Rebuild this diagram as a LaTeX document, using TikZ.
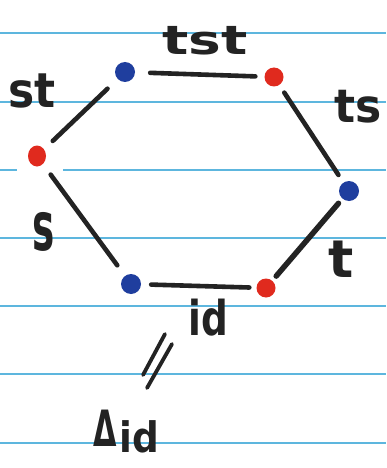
\documentclass[tikz,border=0pt]{standalone}
\usepackage{fontspec}
\usetikzlibrary{shapes.geometric}
\setmainfont{DejaVu Sans}
\definecolor{ruleblue}{HTML}{5DB6DE}
\definecolor{ink}{HTML}{232323}
\definecolor{dotblue}{HTML}{1F3E9E}
\definecolor{dotred}{HTML}{E02A1E}
\begin{document}
\begin{tikzpicture}[x=1pt,y=-1pt,
  rule/.style={draw=ruleblue, line width=2.6pt},
  edge/.style={draw=ink, line width=4.6pt, line cap=round},
  bdot/.style={circle, fill=dotblue, minimum size=20pt, inner sep=0pt},
  rdot/.style={circle, fill=dotred, minimum size=19pt, inner sep=0pt},
  lbl/.style={text=ink, inner sep=0pt, transform shape, xscale=1.1,
              font=\fontsize{40}{40}\selectfont\bfseries}]
\useasboundingbox (0,0) rectangle (386,468);
\fill[white] (0,0) rectangle (386,468);
% ruled paper
\foreach \yy in {33,102,238,306,374,443} \draw[rule] (0,\yy) -- (386,\yy);
\draw[rule] (0,170) -- (17,170);
\draw[rule] (63,170) -- (386,170);
% vertices
\node[bdot] (tl) at (125,72) {};
\node[rdot] (tr) at (274,77) {};
\node[rdot, ellipse, minimum width=18pt, minimum height=21pt] (l) at (37,156) {};
\node[bdot] (r) at (349,191) {};
\node[bdot] (bl) at (131,284) {};
\node[rdot] (br) at (266,288) {};
% edges
\draw[edge, shorten <=15pt, shorten >=9pt] (tl) -- (tr);
\draw[edge, shorten <=14pt, shorten >=12pt] (tl) -- (l);
\draw[edge, shorten <=9pt, shorten >=9pt] (tr) -- (r);
\draw[edge, shorten <=13pt, shorten >=13pt] (l) -- (bl);
\draw[edge, shorten <=6pt, shorten >=6pt, line width=5.5pt] (r) -- (br);
\draw[edge, shorten <=10pt, shorten >=7pt] (bl) -- (br);
% labels
\node[lbl, xscale=1.25] (ltst) at (205,41) {tst};
\node[lbl, yscale=1.2] (lst) at (32,91) {st};
\node[lbl, yscale=1.15] (lts) at (358,107) {ts};
\node[lbl, yscale=1.7, xscale=0.85] (ls) at (44,232) {s};
\node[lbl, yscale=1.3, xscale=1.2] (lt) at (341,259) {t};
\node[lbl, xscale=0.85, yscale=1.2] (lid) at (208,318) {id};
\node[lbl, xscale=0.55, font=\fontsize{50}{50}\selectfont\bfseries] (ldelta) at (105,428) {Δ};
\node[lbl, xscale=0.85, yscale=1.05] (lsub) at (139,437) {id};
% equality mark
\draw[ink, line width=3.8pt, line cap=round] (165,334) -- (143,375);
\draw[ink, line width=3.8pt, line cap=round] (172,344) -- (147,388);
\end{tikzpicture}
\end{document}
